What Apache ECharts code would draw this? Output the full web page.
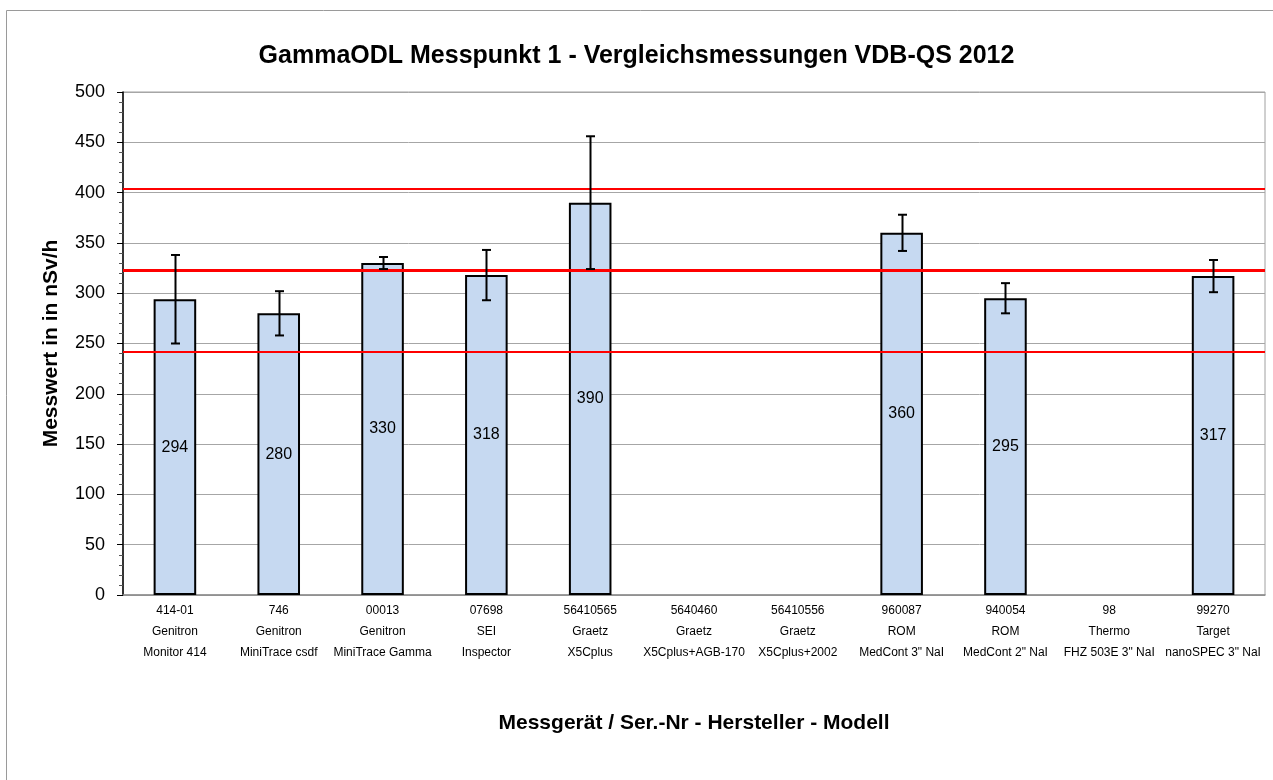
<!DOCTYPE html>
<html>
<head>
<meta charset="utf-8">
<script src="https://cdn.jsdelivr.net/npm/echarts@6/dist/echarts.min.js"></script>
<style>
html,body{margin:0;padding:0;background:#fff;}
#main{width:1273px;height:780px;}
</style>
</head>
<body>
<div id="main"></div>
<script>
// ---- data ----
const serials = ['414-01','746','00013','07698','56410565','5640460','56410556','960087','940054','98','99270'];
const makers = ['Genitron','Genitron','Genitron','SEI','Graetz','Graetz','Graetz','ROM','ROM','Thermo','Target'];
const models = ['Monitor 414','MiniTrace csdf','MiniTrace Gamma','Inspector','X5Cplus','X5Cplus+AGB-170','X5Cplus+2002','MedCont 3" NaI','MedCont 2" NaI','FHZ 503E 3" NaI','nanoSPEC 3" NaI'];
const values = [294, 280, 330, 318, 390, null, null, 360, 295, null, 317];
const errLow = [250, 258, 324, 293, 324, null, null, 342, 280, null, 301];
const errHigh = [338, 302, 336, 343, 456, null, null, 378, 310, null, 333];
const refMean = 323;
const refUpper = 404;
const refLower = 242;
const yTicks = [0, 50, 100, 150, 200, 250, 300, 350, 400, 450, 500];

const categories = serials.map((s, i) => s + '\n' + makers[i] + '\n' + models[i]);
const errData = [];
values.forEach((v, i) => { if (v !== null) errData.push([i, errLow[i], errHigh[i]]); });

const FONT = '"Liberation Sans", Arial, sans-serif';
const chart = echarts.init(document.getElementById('main'));
chart.setOption({
  animation: false,
  backgroundColor: '#fff',
  title: {
    text: 'GammaODL Messpunkt 1 - Vergleichsmessungen VDB-QS 2012',
    left: 'center',
    top: 39,
    textStyle: { fontFamily: FONT, fontSize: 25, fontWeight: 'bold', color: '#000' }
  },
  graphic: [{
    type: 'rect', silent: true, z: -1,
    shape: { x: 6.5, y: 10.5, width: 1300, height: 800 },
    style: { fill: 'none', stroke: '#9a9a9a', lineWidth: 1 }
  }],
  grid: { left: 123, right: 8, top: 92, bottom: 185, show: true, borderColor: '#a0a0a0', borderWidth: 1, backgroundColor: 'transparent' },
  xAxis: {
    type: 'category',
    data: categories,
    name: 'Messgerät / Ser.-Nr - Hersteller - Modell',
    nameLocation: 'middle',
    nameGap: 118,
    nameTextStyle: { fontFamily: FONT, fontSize: 21, fontWeight: 'bold', color: '#000' },
    axisLine: { lineStyle: { color: '#8a8a8a', width: 1.5 } },
    axisTick: { show: false },
    axisLabel: { fontFamily: FONT, fontSize: 12, color: '#000', lineHeight: 21, margin: 5, interval: 0 }
  },
  yAxis: {
    type: 'value',
    min: 0, max: 500, interval: 50,
    name: 'Messwert in in nSv/h',
    nameLocation: 'middle',
    nameGap: 61,
    nameTextStyle: { fontFamily: FONT, fontSize: 21, fontWeight: 'bold', color: '#000' },
    axisLine: { show: true, lineStyle: { color: '#000', width: 1.5 } },
    axisTick: { show: true, length: 6, lineStyle: { color: '#000' } },
    minorTick: { show: true, splitNumber: 5, length: 4, lineStyle: { color: '#555' } },
    splitLine: { lineStyle: { color: '#a6a6a6', width: 1 } },
    axisLabel: {
      fontFamily: FONT, fontSize: 18, color: '#000', margin: 18,
      formatter: v => yTicks.includes(v) ? String(v) : ''
    }
  },
  series: [{
    type: 'bar',
    data: values,
    barCategoryGap: '59%',
    itemStyle: { color: '#c6d9f1', borderColor: '#000', borderWidth: 2 },
    label: { show: true, position: 'inside', fontFamily: FONT, fontSize: 16, color: '#000' },
    markLine: {
      silent: true,
      symbol: 'none',
      label: { show: false },
      z: 5,
      data: [
        { yAxis: refUpper, lineStyle: { color: '#ff0000', width: 2, type: 'solid' } },
        { yAxis: refMean, lineStyle: { color: '#ff0000', width: 3, type: 'solid' } },
        { yAxis: refLower, lineStyle: { color: '#ff0000', width: 2, type: 'solid' } }
      ]
    }
  }, {
    type: 'custom',
    z: 10,
    data: errData,
    renderItem: function (params, api) {
      const i = api.value(0);
      const lo = api.coord([i, api.value(1)]);
      const hi = api.coord([i, api.value(2)]);
      const x = Math.round(lo[0]) + 0.5;
      const w = 4.5;
      const st = { stroke: '#000', lineWidth: 2 };
      return {
        type: 'group',
        children: [
          { type: 'line', shape: { x1: x, y1: hi[1], x2: x, y2: lo[1] }, style: st },
          { type: 'line', shape: { x1: x - w, y1: hi[1], x2: x + w, y2: hi[1] }, style: st },
          { type: 'line', shape: { x1: x - w, y1: lo[1], x2: x + w, y2: lo[1] }, style: st }
        ]
      };
    }
  }]
});
</script>
</body>
</html>
